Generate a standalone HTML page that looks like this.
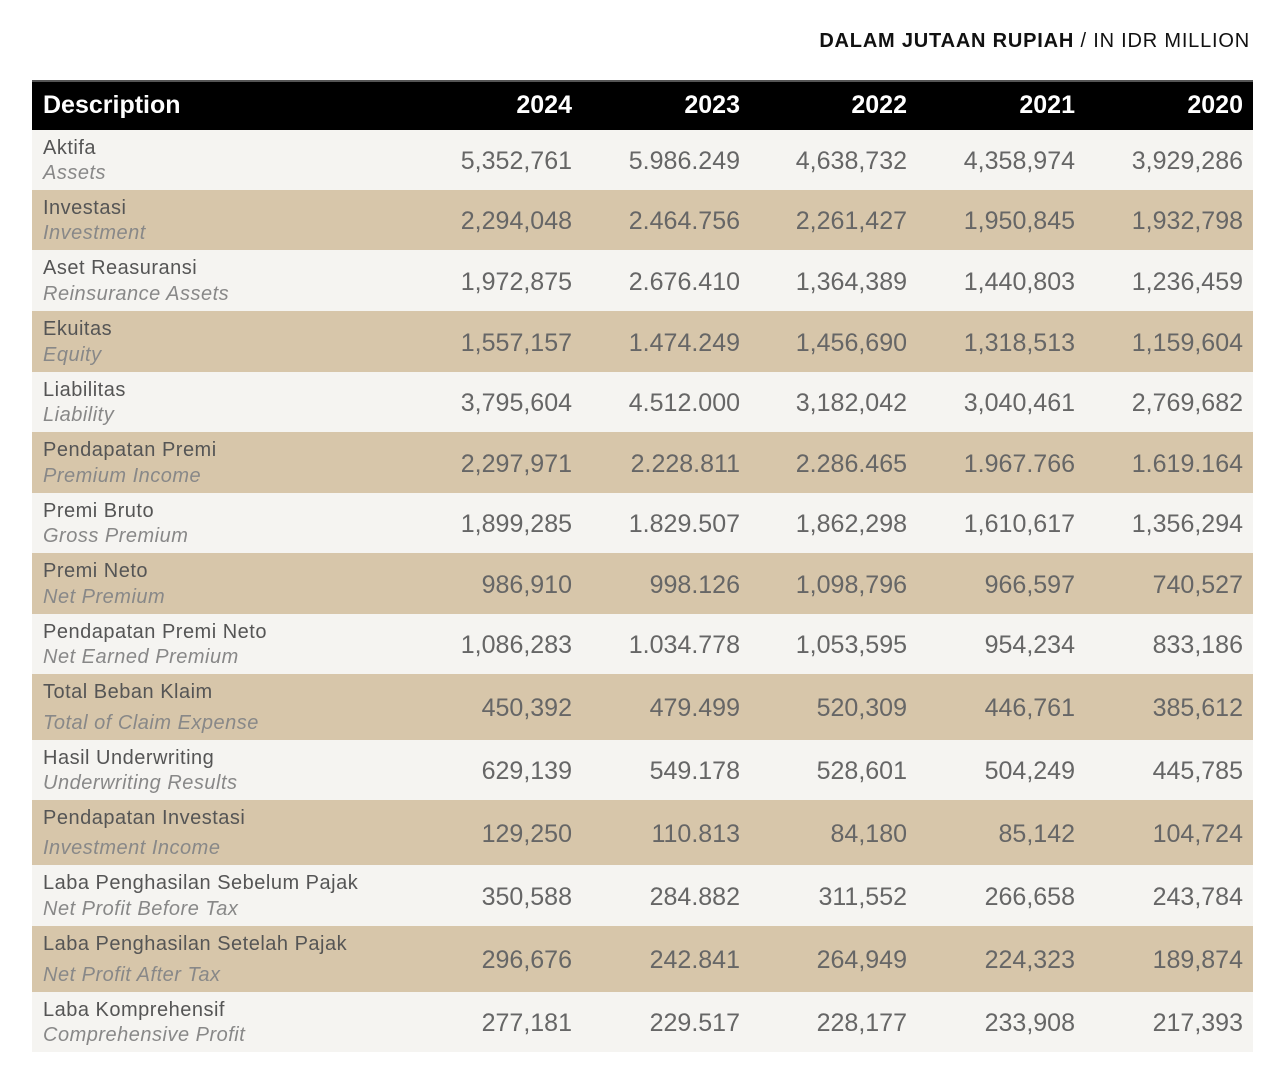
<!DOCTYPE html>
<html><head><meta charset="utf-8">
<style>
body{margin:0;width:1280px;height:1080px;background:#fff;position:relative;overflow:hidden;font-family:"Liberation Sans",sans-serif;}
.unit{position:absolute;right:30px;top:30px;font-size:20px;color:#111;letter-spacing:0.8px;}
.unit b{font-weight:bold;}
.hdr{position:absolute;left:32px;top:80px;width:1221px;height:50px;background:#000;border-top:2px solid #555;box-sizing:border-box;}
.hdr span{position:absolute;top:9px;color:#fff;font-weight:bold;font-size:25px;}
.row{position:absolute;left:32px;width:1221px;}
.l1{position:absolute;left:11px;font-size:20px;color:#555;line-height:24px;letter-spacing:0.5px;white-space:nowrap;}
.l2{position:absolute;left:11px;font-size:20px;color:#888;font-style:italic;line-height:24px;letter-spacing:0.5px;white-space:nowrap;}
.num{position:absolute;font-size:25px;color:#666;line-height:30px;text-align:right;white-space:nowrap;}
</style></head><body>
<div class="unit"><b>DALAM JUTAAN RUPIAH</b> / IN IDR MILLION</div>
<div class="hdr">
<span style="left:11px">Description</span>
</div>
<div id="tbl"></div>
<script>
const years=["2024","2023","2022","2021","2020"];
const labelsId=["Aktifa","Investasi","Aset Reasuransi","Ekuitas","Liabilitas","Pendapatan Premi","Premi Bruto","Premi Neto","Pendapatan Premi Neto","Total Beban Klaim","Hasil Underwriting","Pendapatan Investasi","Laba Penghasilan Sebelum Pajak","Laba Penghasilan Setelah Pajak","Laba Komprehensif"];
const labelsEn=["Assets","Investment","Reinsurance Assets","Equity","Liability","Premium Income","Gross Premium","Net Premium","Net Earned Premium","Total of Claim Expense","Underwriting Results","Investment Income","Net Profit Before Tax","Net Profit After Tax","Comprehensive Profit"];
const v2024=["5,352,761","2,294,048","1,972,875","1,557,157","3,795,604","2,297,971","1,899,285","986,910","1,086,283","450,392","629,139","129,250","350,588","296,676","277,181"];
const v2023=["5.986.249","2.464.756","2.676.410","1.474.249","4.512.000","2.228.811","1.829.507","998.126","1.034.778","479.499","549.178","110.813","284.882","242.841","229.517"];
const v2022=["4,638,732","2,261,427","1,364,389","1,456,690","3,182,042","2.286.465","1,862,298","1,098,796","1,053,595","520,309","528,601","84,180","311,552","264,949","228,177"];
const v2021=["4,358,974","1,950,845","1,440,803","1,318,513","3,040,461","1.967.766","1,610,617","966,597","954,234","446,761","504,249","85,142","266,658","224,323","233,908"];
const v2020=["3,929,286","1,932,798","1,236,459","1,159,604","2,769,682","1.619.164","1,356,294","740,527","833,186","385,612","445,785","104,724","243,784","189,874","217,393"];
const cols=[v2024,v2023,v2022,v2021,v2020];
const rowH=[60,60,61,61,60,61,60,61,60,66,60,65,61,66,60];
const colRight=[572,740,907,1075,1243];
const hdr=document.querySelector('.hdr');
years.forEach((y,i)=>{const s=document.createElement('span');


s.textContent=y;s.style.right=(1253-colRight[i])+'px';hdr.appendChild(s);});
const tbl=document.getElementById('tbl');
let yPos=130;
labelsId.forEach((lab,r)=>{
 const h=rowH[r];
 const row=document.createElement('div');row.className='row';
 
 
 row.style.top=yPos+'px';row.style.height=h+'px';
 row.style.background=r%2?'#d7c6aa':'#f5f4f1';
 const a=document.createElement('div');a.className='l1';a.textContent=lab;a.style.top='6px';
 
 
 const b=document.createElement('div');b.className='l2';b.textContent=labelsEn[r];b.style.top=(h-29)+'px';
 
 
 row.appendChild(a);row.appendChild(b);
 cols.forEach((c,i)=>{const n=document.createElement('div');n.className='num';n.textContent=c[r];
  
  
  n.style.right=(1253-colRight[i])+'px';n.style.top=(h/2-14)+'px';row.appendChild(n);});
 tbl.appendChild(row);yPos+=h;
});
</script>
</body></html>
